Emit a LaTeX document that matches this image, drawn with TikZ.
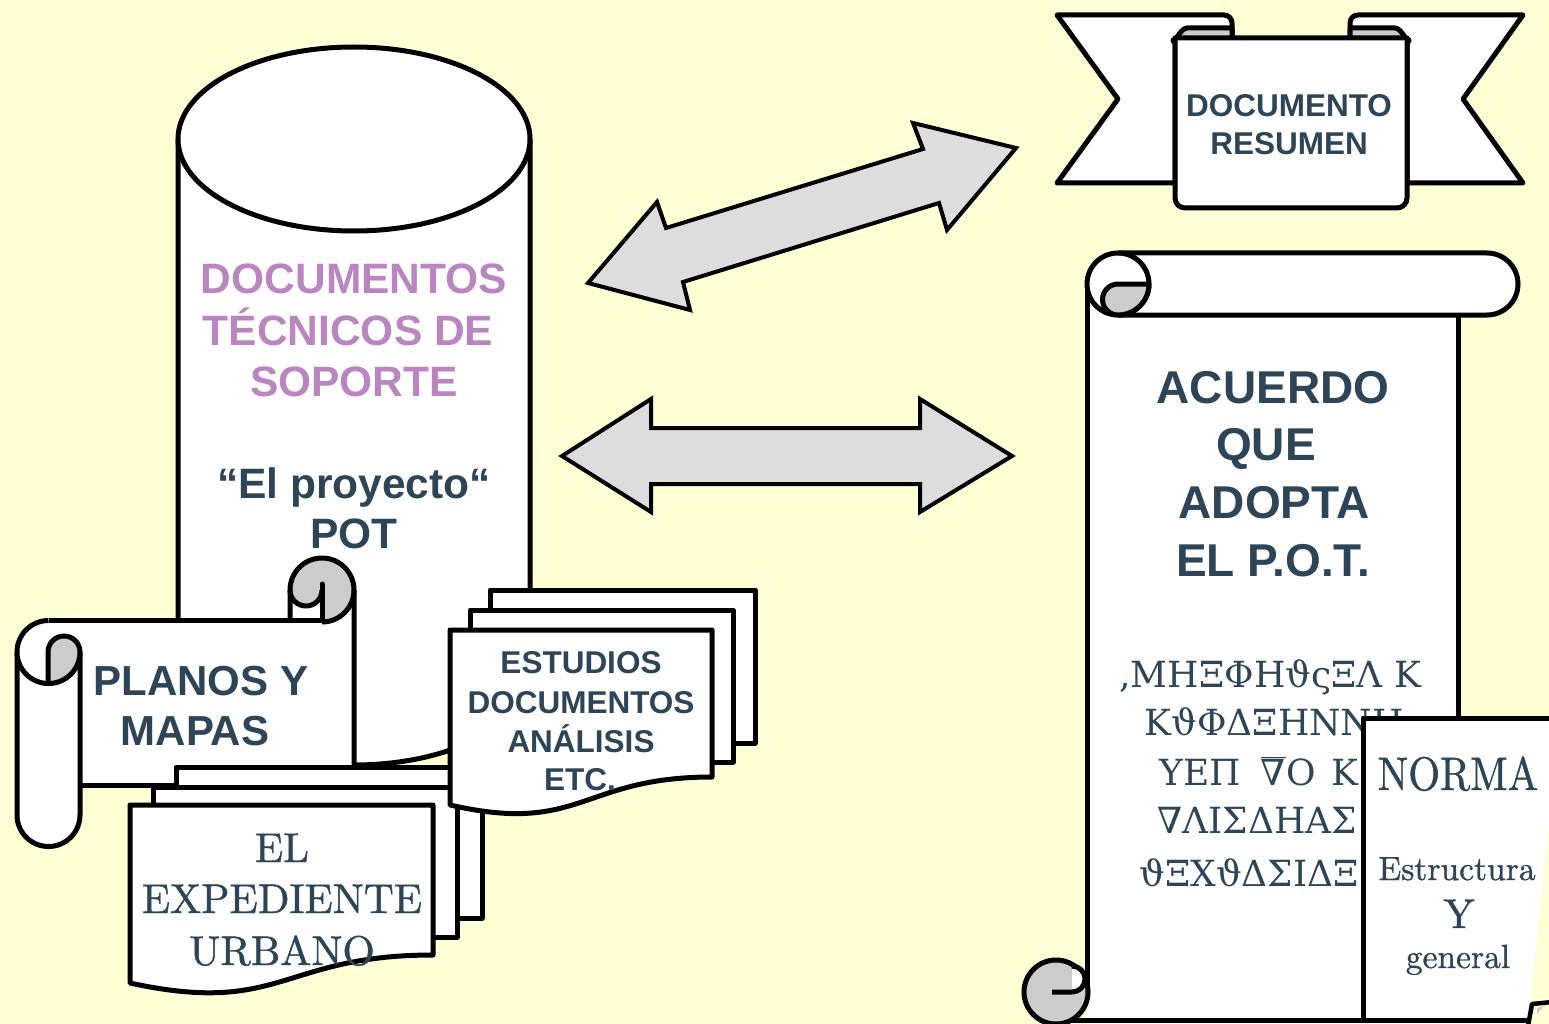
\documentclass[tikz,border=0pt]{standalone}
\usepackage{fontspec}
\usepackage{graphicx}
\newfontfamily\arial{Liberation Sans}
\newfontfamily\grk{DejaVu Serif}
\newfontfamily\lmr{lmroman10-regular}[Extension=.otf,FakeBold=1]
\definecolor{bg}{RGB}{255,255,213}
\definecolor{dk}{RGB}{45,69,86}
\definecolor{pur}{RGB}{185,134,192}
\definecolor{arr}{RGB}{221,221,221}
\definecolor{roll}{RGB}{204,204,204}
\begin{document}
\begin{tikzpicture}[x=1pt,y=-1pt,line width=5pt,line join=round,
  paper/.style={draw=black,fill=white},
  arrowsh/.style={draw=black,fill=arr,line width=4pt,line join=miter},
  t/.style={inner sep=0pt,anchor=base,text=dk},
  sbig/.style={font={\arial\bfseries\fontsize{42.5}{51}\selectfont}},
  splan/.style={font={\arial\bfseries\fontsize{42}{50}\selectfont}},
  smid/.style={font={\arial\bfseries\fontsize{31.5}{38}\selectfont}},
  sacu/.style={font={\arial\bfseries\fontsize{46}{58}\selectfont}},
  rexp/.style={font={\lmr\fontsize{41.5}{50}\selectfont}},
  rgrk/.style={font={\grk\fontsize{36}{49}\selectfont},anchor=base west},
  rsm/.style={font={\lmr\fontsize{33.5}{40}\selectfont}}]
\useasboundingbox (0,0) rectangle (1549,1024);
\fill[bg] (0,0) rectangle (1549,1024);

% ---- double arrows
\draw[arrowsh] (588,283) -- (657,202) -- (666,228) -- (923,149) -- (913,123) -- (1016,148) -- (947,230) -- (939,203) -- (683,282) -- (690,310) -- cycle;
\draw[arrowsh] (562,456) -- (651,399) -- (651,428) -- (920,428) -- (920,399) -- (1012,456) -- (920,512) -- (920,484) -- (651,484) -- (651,512) -- cycle;

% ---- cylinder
\path[fill=white] (178,139) -- (178,673) arc[start angle=180,end angle=0,x radius=176,y radius=92] -- (530,139) -- cycle;
\draw (178,139) -- (178,673) arc[start angle=180,end angle=0,x radius=176,y radius=92] -- (530,139);
\draw[fill=white] (354,139) ellipse[x radius=176,y radius=92];

% ---- PLANOS Y MAPAS scroll
\path[fill=white] (48,620) rectangle (354,785);
\draw (80,785) -- (354,785);
\draw[fill=white] (17,652) -- (17,815) arc[start angle=180,end angle=0,radius=31.5] -- (80,652);
\fill[white] (48.5,652) circle[radius=31.5];
\fill[roll] (48,683.5) -- (48,652) arc[start angle=180,end angle=360,radius=16] -- (80,652) arc[start angle=0,end angle=90,radius=31.5] -- cycle;
\draw (48.5,620.5) arc[start angle=270,end angle=90,radius=31.5] arc[start angle=90,end angle=0,radius=31.5];
\draw (48,683) -- (48,652) arc[start angle=180,end angle=360,radius=16];
\fill[roll] (322,590) circle[radius=32];
\fill[white] (290,590) arc[start angle=180,end angle=0,radius=16] -- (322,622) -- (290,622) -- cycle;
\draw (48.5,620.5) -- (322,620.5);
\draw (290,620) -- (290,590) arc[start angle=180,end angle=360,radius=32] -- (354,785);
\draw (354,590) arc[start angle=0,end angle=90,radius=32];
\draw (290,590) arc[start angle=180,end angle=0,radius=16];
\draw[line cap=round] (322,584) -- (322,620);

% ---- EL EXPEDIENTE URBANO stack
\draw[paper] (176,767) rectangle (482,918);
\draw[paper] (153,787) rectangle (457,937);
\draw[paper] (130,805) -- (433,805) -- (433,955) .. controls (281.5,955) and (281.5,1016) .. (130,983) -- cycle;

% ---- ESTUDIOS stack
\draw[paper] (490,590) rectangle (755,743);
\draw[paper] (470,610) rectangle (733,762);
\draw[paper] (450,630) -- (712,630) -- (712,777) .. controls (581,777) and (581,835) .. (450,805) -- cycle;

% ---- ribbon DOCUMENTO RESUMEN
\draw[paper] (1175,183) -- (1057,183) -- (1118,99) -- (1057,15) -- (1224,15) arc[start angle=270,end angle=360,radius=8] -- (1232,40) -- (1175,40) -- cycle;
\draw[paper] (1407,183) -- (1523,183) -- (1463,99) -- (1523,15) -- (1358,15) arc[start angle=270,end angle=180,radius=8] -- (1350,40) -- (1407,40) -- cycle;
\draw[fill=roll] (1173,40) to[out=270,in=180] (1187,28) -- (1232,28) -- (1232,40) -- cycle;
\draw[fill=roll] (1409,40) to[out=270,in=0] (1395,28) -- (1350,28) -- (1350,40) -- cycle;
\draw[paper] (1175,38) -- (1175,198) arc[start angle=180,end angle=90,radius=10] -- (1397,208) arc[start angle=90,end angle=0,radius=10] -- (1407,38) -- cycle;

% ---- big vertical scroll
\path[fill=white] (1087,284) rectangle (1458,1020);
\draw (1087,284) -- (1087,992);
\draw (1458,315) -- (1458,1020) -- (1056,1020);
\path[fill=white] (1118,253) -- (1487,253) arc[start angle=270,end angle=450,radius=31] -- (1118,315) arc[start angle=90,end angle=270,radius=31] -- cycle;
\draw (1118,315) -- (1487,315) arc[start angle=90,end angle=-90,radius=31] -- (1118,253);
\draw (1118,284) circle[radius=31];
\draw[fill=roll] (1118,284) -- (1149,284) arc[start angle=0,end angle=90,radius=31] arc[start angle=90,end angle=270,radius=15.5] -- cycle;
\draw[fill=roll] (1056,992) circle[radius=32];
\fill[white] (1072,992) arc[start angle=90,end angle=-90,radius=13] -- cycle;
\draw (1052,992) -- (1072,992) arc[start angle=90,end angle=-90,radius=13];

% ---- texts, cylinder
\node[t,sbig,text=pur] (d1) at (354,294) {DOCUMENTOS};
\node[t,sbig,text=pur] (d2) at (348,345) {TÉCNICOS DE};
\node[t,sbig,text=pur] (d3) at (354,396) {SOPORTE};
\node[t,sbig] (p1) at (354,498) {“El proyecto“};
\node[t,sbig] (p2) at (354,548) {POT};
% planos
\node[t,splan] (pl1) at (201,695) {PLANOS Y};
\node[t,splan] (pl2) at (195,745) {MAPAS};
% expediente
\node[t,rexp] (e1) at (282,862) {EL};
\node[t,rexp] (e2) at (282,913) {EXPEDIENTE};
\node[t,rexp] (e3) at (282,965) {URBANO};
% estudios
\node[t,smid] (s1) at (581,673) {ESTUDIOS};
\node[t,smid] (s2) at (581,713) {DOCUMENTOS};
\node[t,smid] (s3) at (581,752) {ANÁLISIS};
\node[t,smid] (s4) at (580,790) {ETC.};
% resumen
\node[t,smid] (r1) at (1289,117) {DOCUMENTO};
\node[t,smid] (r2) at (1289,155) {RESUMEN};
% acuerdo
\node[t,sacu] (a1) at (1273,403) {ACUERDO};
\node[t,sacu] (a2) at (1266,460) {QUE};
\node[t,sacu] (a3) at (1274,518) {ADOPTA};
\node[t,sacu] (a4) at (1273,576) {EL P.O.T.};
% greek lines
\node[t,rgrk] (g1) at (1117,687) {,ΜΗΞΦΗϑςΞΛ Κ};
\node[t,rgrk] (g2) at (1142,735) {ΚϑΦΔΞΗΝΝΗ};
\node[t,rgrk] (g3) at (1157,785) {ΥΕΠ\hspace{20pt}$\overline{\hbox{∇}}$Ο\hspace{16pt}Κ};
\node[t,rgrk] (g4) at (1155,833) {∇ΛΙΣΔΗΑΣ};
\node[t,rgrk] (g5) at (1137,886) {ϑΞΧϑΔΣΙΔΞ};

% ---- NORMA box
\draw[paper] (1560,718) -- (1363,718) -- (1363,1020) -- (1528,1020);
\fill[bg] (1531,1026) -- (1535,1008) -- (1552,1005) -- (1552,1026) -- cycle;
\draw[line width=4.5pt] (1528,1026) -- (1532,1004) -- (1552,1002);
\fill[roll] (1537,1008) -- (1544,1006) -- (1537,1014) -- cycle;
\node[t,font={\lmr\fontsize{47}{50}\selectfont}] (n1) at (1458,790) {\scalebox{0.87}[1]{NORMA}};
\node[t,rsm] (n2) at (1457,880) {Estructura};
\node[t,rexp] (n3) at (1459,928) {Y};
\node[t,rsm] (n4) at (1458,968) {general};
\end{tikzpicture}
\end{document}
